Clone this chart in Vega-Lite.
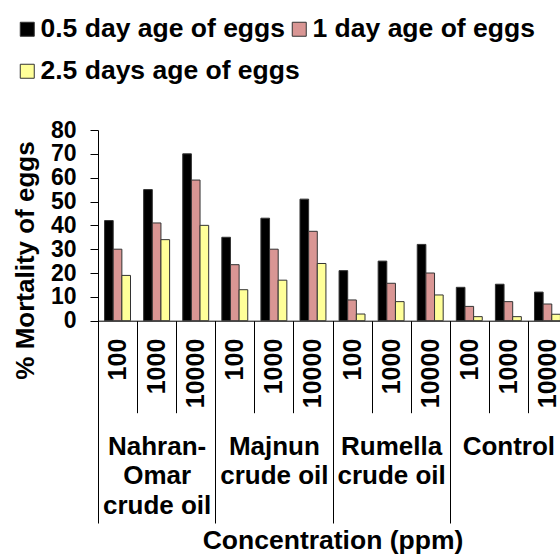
{
  "$schema": "https://vega.github.io/schema/vega-lite/v6.json",
  "autosize": {"type": "none"},
  "width": 462,
  "height": 190.7,
  "padding": {"left": 98, "top": 130, "right": 0, "bottom": 236.3},
  "background": "white",
  "config": {
    "font": "Liberation Sans",
    "view": {"stroke": null},
    "axis": {"grid": false, "domainColor": "black", "tickColor": "black", "labelColor": "black", "titleColor": "black", "labelFont": "Liberation Sans", "titleFont": "Liberation Sans", "labelFontWeight": "bold", "titleFontWeight": "bold"}
  },
  "data": {
    "values": [
      {"cell": "NO|100", "group": "Nahran-|Omar|crude oil", "series": "0.5 day age of eggs", "value": 42},
      {"cell": "NO|100", "group": "Nahran-|Omar|crude oil", "series": "1 day age of eggs", "value": 30},
      {"cell": "NO|100", "group": "Nahran-|Omar|crude oil", "series": "2.5 days age of eggs", "value": 19},
      {"cell": "NO|1000", "group": "Nahran-|Omar|crude oil", "series": "0.5 day age of eggs", "value": 55},
      {"cell": "NO|1000", "group": "Nahran-|Omar|crude oil", "series": "1 day age of eggs", "value": 41},
      {"cell": "NO|1000", "group": "Nahran-|Omar|crude oil", "series": "2.5 days age of eggs", "value": 34},
      {"cell": "NO|10000", "group": "Nahran-|Omar|crude oil", "series": "0.5 day age of eggs", "value": 70},
      {"cell": "NO|10000", "group": "Nahran-|Omar|crude oil", "series": "1 day age of eggs", "value": 59},
      {"cell": "NO|10000", "group": "Nahran-|Omar|crude oil", "series": "2.5 days age of eggs", "value": 40},
      {"cell": "MJ|100", "group": "Majnun|crude oil", "series": "0.5 day age of eggs", "value": 35},
      {"cell": "MJ|100", "group": "Majnun|crude oil", "series": "1 day age of eggs", "value": 23.5},
      {"cell": "MJ|100", "group": "Majnun|crude oil", "series": "2.5 days age of eggs", "value": 13},
      {"cell": "MJ|1000", "group": "Majnun|crude oil", "series": "0.5 day age of eggs", "value": 43},
      {"cell": "MJ|1000", "group": "Majnun|crude oil", "series": "1 day age of eggs", "value": 30},
      {"cell": "MJ|1000", "group": "Majnun|crude oil", "series": "2.5 days age of eggs", "value": 17},
      {"cell": "MJ|10000", "group": "Majnun|crude oil", "series": "0.5 day age of eggs", "value": 51},
      {"cell": "MJ|10000", "group": "Majnun|crude oil", "series": "1 day age of eggs", "value": 37.5},
      {"cell": "MJ|10000", "group": "Majnun|crude oil", "series": "2.5 days age of eggs", "value": 24},
      {"cell": "RU|100", "group": "Rumella|crude oil", "series": "0.5 day age of eggs", "value": 21},
      {"cell": "RU|100", "group": "Rumella|crude oil", "series": "1 day age of eggs", "value": 8.7},
      {"cell": "RU|100", "group": "Rumella|crude oil", "series": "2.5 days age of eggs", "value": 2.8},
      {"cell": "RU|1000", "group": "Rumella|crude oil", "series": "0.5 day age of eggs", "value": 25},
      {"cell": "RU|1000", "group": "Rumella|crude oil", "series": "1 day age of eggs", "value": 15.7},
      {"cell": "RU|1000", "group": "Rumella|crude oil", "series": "2.5 days age of eggs", "value": 8},
      {"cell": "RU|10000", "group": "Rumella|crude oil", "series": "0.5 day age of eggs", "value": 32},
      {"cell": "RU|10000", "group": "Rumella|crude oil", "series": "1 day age of eggs", "value": 20},
      {"cell": "RU|10000", "group": "Rumella|crude oil", "series": "2.5 days age of eggs", "value": 10.8},
      {"cell": "CO|100", "group": "Control", "series": "0.5 day age of eggs", "value": 14},
      {"cell": "CO|100", "group": "Control", "series": "1 day age of eggs", "value": 6},
      {"cell": "CO|100", "group": "Control", "series": "2.5 days age of eggs", "value": 1.7},
      {"cell": "CO|1000", "group": "Control", "series": "0.5 day age of eggs", "value": 15.3},
      {"cell": "CO|1000", "group": "Control", "series": "1 day age of eggs", "value": 8},
      {"cell": "CO|1000", "group": "Control", "series": "2.5 days age of eggs", "value": 1.7},
      {"cell": "CO|10000", "group": "Control", "series": "0.5 day age of eggs", "value": 12},
      {"cell": "CO|10000", "group": "Control", "series": "1 day age of eggs", "value": 7},
      {"cell": "CO|10000", "group": "Control", "series": "2.5 days age of eggs", "value": 2.7}
    ]
  },
  "layer": [
    {
      "mark": {"type": "bar", "stroke": "#333333", "strokeWidth": 1},
      "encoding": {
        "x": {
          "field": "cell", "type": "nominal", "sort": null,
          "scale": {"range": [0, 469], "paddingInner": 0, "paddingOuter": 0},
          "axis": {
            "title": null, "orient": "bottom", "labelAngle": -90, "labelExpr": "split(datum.label, '|')[1]",
            "labelFontSize": 25, "tickBand": "extent", "tickSize": 92, "labelPadding": -74.5,
            "labelOverlap": false, "domainWidth": 1, "tickWidth": 1
          }
        },
        "xOffset": {
          "field": "series", "type": "nominal",
          "sort": ["0.5 day age of eggs", "1 day age of eggs", "2.5 days age of eggs"],
          "scale": {"paddingInner": 0, "paddingOuter": 0.76}
        },
        "y": {
          "field": "value", "type": "quantitative",
          "scale": {"domain": [0, 80], "nice": false},
          "axis": {
            "values": [0, 10, 20, 30, 40, 50, 60, 70, 80], "title": "% Mortality of eggs",
            "labelFontSize": 23, "tickSize": 8, "labelPadding": 14, "labelOverlap": false, "labelBound": false,
            "labelFlush": false, "titleFontSize": 26, "titleY": 130, "titlePadding": 12
          }
        },
        "color": {
          "field": "series", "type": "nominal",
          "scale": {"domain": ["0.5 day age of eggs", "2.5 days age of eggs", "1 day age of eggs"], "range": ["#000000", "#FFFF99", "#D99694"]},
          "legend": {
            "title": null, "orient": "none", "legendX": -84, "legendY": -114, "columns": 2, "gridAlign": "none",
            "symbolType": "square", "symbolSize": 196, "symbolStrokeColor": "#333333", "symbolStrokeWidth": 1,
            "labelFontSize": 26.5, "labelFontWeight": "bold", "labelColor": "black", "labelLimit": 400,
            "labelOffset": 0, "columnPadding": -14, "rowPadding": 15, "padding": 0
          }
        }
      }
    },
    {
      "mark": {"type": "rule", "opacity": 0},
      "encoding": {
        "x": {
          "field": "group", "type": "nominal", "sort": null,
          "scale": {"range": [0, 469], "paddingInner": 0, "paddingOuter": 0},
          "axis": {
            "title": "Concentration (ppm)", "orient": "bottom", "domain": false, "labelAngle": 0,
            "labelExpr": "split(datum.label, '|')", "labelFontSize": 26, "labelLineHeight": 29.5,
            "labelBaseline": "top", "labelAlign": "center",
            "tickBand": "extent", "tickSize": 202.3, "labelPadding": -90, "labelOverlap": false,
            "titleFontSize": 26.5, "titlePadding": 7
          }
        }
      }
    }
  ],
  "resolve": {"scale": {"x": "independent"}}
}
